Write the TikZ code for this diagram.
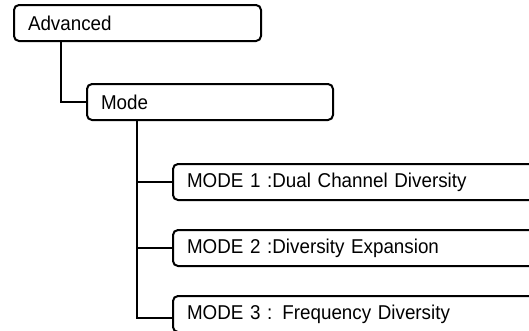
\documentclass[tikz,border=0pt]{standalone}
\usepackage{fontspec}
\newfontfamily\condfont[FakeStretch=0.94,WordSpace=0.75]{Liberation Sans}
\newcommand{\boxfont}{\condfont\fontsize{20}{22}\selectfont}
\begin{document}
\begin{tikzpicture}[x=1pt,y=-1pt,
  menubox/.style={draw=black, line width=2pt, rounded corners=5pt, anchor=north west,
    minimum height=36pt, minimum width=#1, inner xsep=14pt, inner ysep=0pt, font=\boxfont},
  link/.style={draw=black, line width=2pt}]
\useasboundingbox (0,0) rectangle (529,330);
\node[menubox=247pt, text width=219pt] (adv) at (13,4) {Advanced};
\node[menubox=246pt, text width=218pt] (mode) at (86,83) {Mode};
\node[menubox=364pt, text width=336pt] (m1) at (172,163) {MODE 1 :Dual Channel Diversity};
\node[menubox=364pt, text width=336pt] (m2) at (172,229) {MODE 2 :Diversity Expansion};
\node[menubox=364pt, text width=336pt] (m3) at (172,295) {MODE 3 : Frequency Diversity};
\draw[link] ([xshift=48pt]adv.south west) |- (mode.west);
\draw[link] ([xshift=51pt]mode.south west) |- (m1.west);
\draw[link] ([xshift=51pt]mode.south west) |- (m2.west);
\draw[link] ([xshift=51pt]mode.south west) |- ([yshift=-4pt]m3.west);
\end{tikzpicture}
\end{document}
